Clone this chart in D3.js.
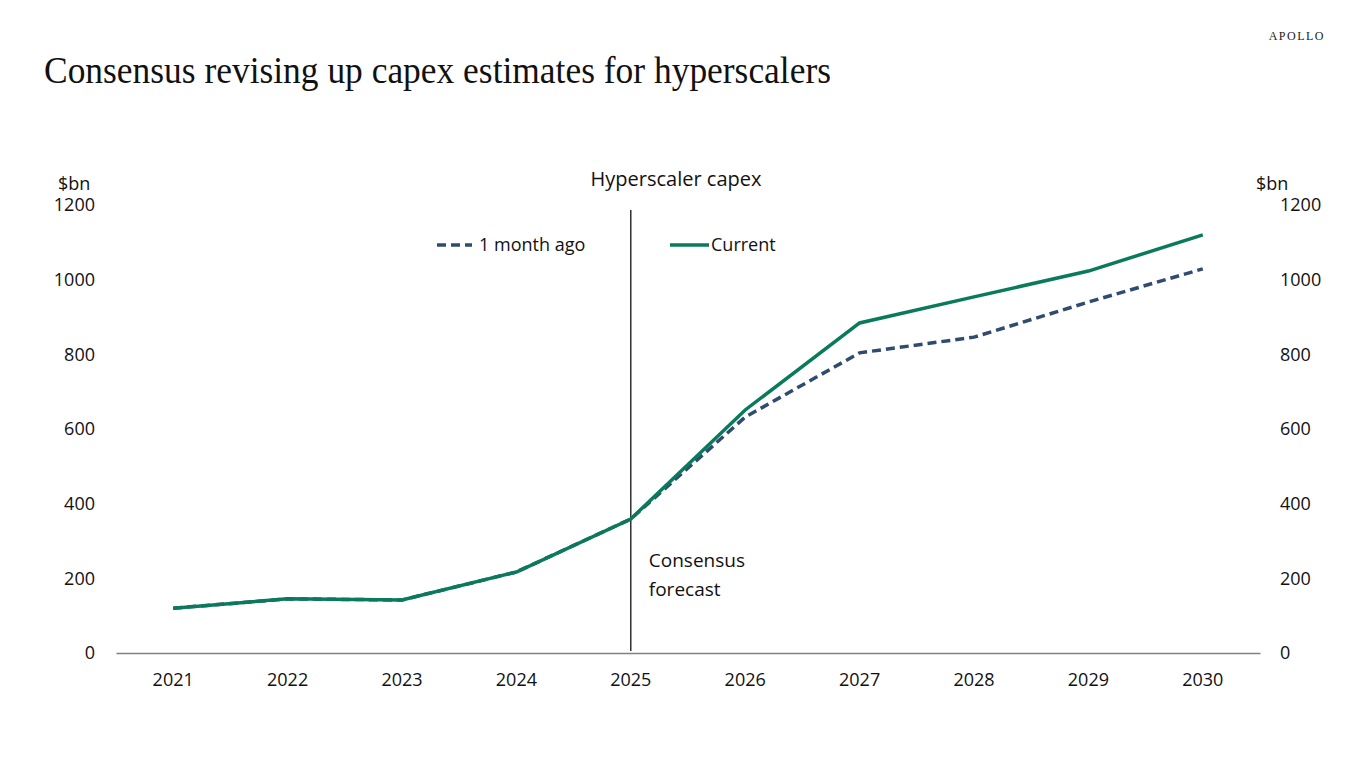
<!DOCTYPE html>
<html>
<head>
<meta charset="utf-8">
<script src="https://cdn.jsdelivr.net/npm/d3@7"></script>
<style>
  body { margin: 0; background: #fff; }
  svg { display: block; }
</style>
</head>
<body>
<div id="chart"></div>
<script>
// Data

const years = ['2021', '2022', '2023', '2024', '2025', '2026', '2027', '2028', '2029', '2030'];
const current = [120, 145, 142, 217, 359, 651, 884, 954, 1023, 1120];
const monthAgo = [120, 145, 142, 217, 359, 632, 804, 846, 940, 1029];
const yTicks = [0, 200, 400, 600, 800, 1000, 1200];
const forecastStart = '2025';

const w = 1366;
const h = 768;
const margin = { left: 116, right: 106, top: 205, bottom: 115 };

const svg = d3.select('#chart')
  .append('svg')
  .attr('width', w)
  .attr('height', h)
  .style('font-family', '"Open Sans", "Noto Sans", sans-serif');

// Header
svg.append('text')
  .attr('x', 44)
  .attr('y', 83)
  .attr('font-family', '"Liberation Serif", "DejaVu Serif", serif')
  .attr('font-size', 37)
  .attr('textLength', 787)
  .attr('lengthAdjust', 'spacingAndGlyphs')
  .attr('fill', '#111')
  .text('Consensus revising up capex estimates for hyperscalers');

svg.append('text')
  .attr('x', 1325)
  .attr('y', 40)
  .attr('text-anchor', 'end')
  .attr('font-family', '"Liberation Serif", serif')
  .attr('font-size', 12)
  .attr('letter-spacing', 1.5)
  .attr('fill', '#222')
  .text('APOLLO');

// Scales
const xScale = d3.scaleBand()
  .domain(years)
  .range([margin.left, w - margin.right]);

const yScale = d3.scaleLinear()
  .domain([0, 1200])
  .range([h - margin.bottom, margin.top]);

const cx = d => xScale(d) + xScale.bandwidth() / 2;

// Axes
const yLeft = d3.axisLeft(yScale).tickValues(yTicks).tickFormat(d3.format('d')).tickSize(0).tickPadding(0);
const yRight = d3.axisRight(yScale).tickValues(yTicks).tickFormat(d3.format('d')).tickSize(0).tickPadding(0);

svg.append('g')
  .attr('transform', 'translate(95,0)')
  .call(yLeft)
  .call(g => g.select('.domain').remove());

svg.append('g')
  .attr('transform', 'translate(1280,0)')
  .call(yRight)
  .call(g => g.select('.domain').remove());

const xAxis = d3.axisBottom(xScale).tickSize(0).tickPadding(20);
svg.append('g')
  .attr('transform', 'translate(0,' + (h - margin.bottom) + ')')
  .call(xAxis)
  .call(g => g.select('.domain').attr('stroke', '#808080').attr('stroke-width', 1.5));

svg.selectAll('.tick text')
  .attr('font-size', 18)
  .attr('fill', '#111')
  .attr('font-family', '"Open Sans", "Noto Sans", sans-serif');

// Unit labels and chart title
svg.append('text').attr('x', 58).attr('y', 190).attr('font-size', 18).attr('fill', '#111').text('$bn');
svg.append('text').attr('x', 1256).attr('y', 190).attr('font-size', 18).attr('fill', '#111').text('$bn');
svg.append('text')
  .attr('x', 676)
  .attr('y', 186)
  .attr('text-anchor', 'middle')
  .attr('font-size', 20)
  .attr('fill', '#111')
  .text('Hyperscaler capex');

// Forecast divider
svg.append('line')
  .attr('x1', cx(forecastStart))
  .attr('x2', cx(forecastStart))
  .attr('y1', 210)
  .attr('y2', h - margin.bottom - 2)
  .attr('stroke', '#111')
  .attr('stroke-width', 1.3);

svg.append('text')
  .attr('x', cx(forecastStart) + 18)
  .attr('font-size', 19)
  .attr('fill', '#111')
  .selectAll('tspan')
  .data(['Consensus', 'forecast'])
  .enter()
  .append('tspan')
  .attr('x', cx(forecastStart) + 18)
  .attr('y', (d, i) => 567 + i * 29)
  .text(d => d);

// Lines
const line = d3.line()
  .x((d, i) => cx(years[i]))
  .y(d => yScale(d));

svg.append('path')
  .datum(monthAgo)
  .attr('d', line)
  .attr('fill', 'none')
  .attr('stroke', '#2f4b6e')
  .attr('stroke-width', 3.5)
  .attr('stroke-dasharray', '9,5');

svg.append('path')
  .datum(current)
  .attr('d', line)
  .attr('fill', 'none')
  .attr('stroke', '#0a7a5c')
  .attr('stroke-width', 3.5);

// Legend
const legend = svg.append('g');
legend.append('line')
  .attr('x1', 437).attr('x2', 472).attr('y1', 245).attr('y2', 245)
  .attr('stroke', '#2f4b6e').attr('stroke-width', 3.5).attr('stroke-dasharray', '9,5');
legend.append('text')
  .attr('x', 479).attr('y', 251).attr('font-size', 18).attr('fill', '#111')
  .text('1 month ago');
legend.append('line')
  .attr('x1', 670).attr('x2', 709).attr('y1', 245).attr('y2', 245)
  .attr('stroke', '#0a7a5c').attr('stroke-width', 3.5);
legend.append('text')
  .attr('x', 711).attr('y', 251).attr('font-size', 18).attr('fill', '#111')
  .text('Current');
</script>
</body>
</html>
